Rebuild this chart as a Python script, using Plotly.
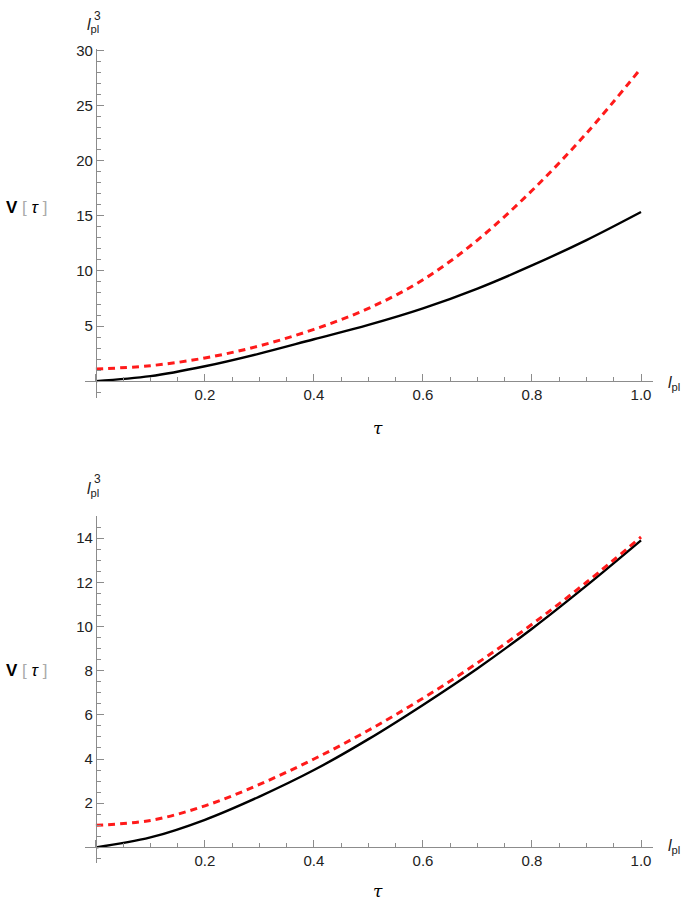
import plotly.graph_objects as go

# values
tau = [0.0, 0.1, 0.2, 0.3, 0.4, 0.5, 0.6, 0.7, 0.8, 0.9, 1.0]

top_black = [0.0, 0.45, 1.35, 2.5, 3.8, 5.1, 6.6, 8.4, 10.5, 12.8, 15.35]
top_red = [1.1, 1.4, 2.1, 3.2, 4.7, 6.6, 9.2, 12.8, 17.3, 22.5, 28.4]

bot_black = [0.0, 0.45, 1.25, 2.3, 3.5, 4.9, 6.45, 8.1, 9.9, 11.85, 13.9]
bot_red = [1.0, 1.22, 1.88, 2.85, 4.0, 5.3, 6.75, 8.35, 10.1, 12.0, 14.05]

x_ticks = [0, 0.2, 0.4, 0.6, 0.8, 1.0]
x_labels = ["", "0.2", "0.4", "0.6", "0.8", "1.0"]
top_y_ticks = [0, 5, 10, 15, 20, 25, 30]
top_y_labels = ["", "5", "10", "15", "20", "25", "30"]
bot_y_ticks = [0, 2, 4, 6, 8, 10, 12, 14]
bot_y_labels = ["", "2", "4", "6", "8", "10", "12", "14"]

W, H = 685, 900
AXIS = "#8c8c8c"
FONT = "Liberation Sans"
TXT = "#222"


def px_x(p):
    return p / W


def px_y(p):
    return 1 - p / H


x_range = [-0.02, 1.022]
x_dom = [px_x(85), px_x(653)]

panels = [
    dict(yr=[-1.5, 30.15], ypx=(42.3, 393.7), black=top_black, red=top_red,
         tv=top_y_ticks, tt=top_y_labels, minor=1, off=0),
    dict(yr=[-0.72, 15.0], ypx=(513.0, 863.0), black=bot_black, red=bot_red,
         tv=bot_y_ticks, tt=bot_y_labels, minor=0.5, off=467),
]

fig = go.Figure()
layout = {}
annotations = []

for i, p in enumerate(panels, start=1):
    xa = "x" if i == 1 else "x%d" % i
    ya = "y" if i == 1 else "y%d" % i
    y_dom = [px_y(p["ypx"][1]), px_y(p["ypx"][0])]
    r0, r1 = p["yr"]
    # axes cross at the data origin
    y_zero = y_dom[0] + (y_dom[1] - y_dom[0]) * (0 - r0) / (r1 - r0)
    x_zero = x_dom[0] + (x_dom[1] - x_dom[0]) * (0 - x_range[0]) / (x_range[1] - x_range[0])

    fig.add_trace(go.Scatter(x=tau, y=p["black"], mode="lines", line_shape="spline",
                             line=dict(color="black", width=2.4), xaxis=xa, yaxis=ya,
                             showlegend=False))
    fig.add_trace(go.Scatter(x=tau, y=p["red"], mode="lines", line_shape="spline",
                             line=dict(color="#ff1a1a", width=3, dash="7px,5px"),
                             xaxis=xa, yaxis=ya, showlegend=False))

    layout["xaxis" if i == 1 else "xaxis%d" % i] = dict(
        domain=x_dom, range=x_range, anchor="free", position=y_zero,
        showline=True, linecolor=AXIS, linewidth=1, showgrid=False, zeroline=False,
        tickmode="array", tickvals=x_ticks, ticktext=x_labels,
        ticks="inside", ticklen=7, tickcolor=AXIS, tickwidth=1,
        tickfont=dict(family=FONT, size=15, color=TXT),
        minor=dict(tickmode="linear", tick0=0, dtick=0.05, ticks="inside",
                   ticklen=4, tickcolor=AXIS),
    )
    layout["yaxis" if i == 1 else "yaxis%d" % i] = dict(
        domain=y_dom, range=p["yr"], anchor="free", position=x_zero,
        showline=True, linecolor=AXIS, linewidth=1, showgrid=False, zeroline=False,
        tickmode="array", tickvals=p["tv"], ticktext=p["tt"],
        ticks="inside", ticklen=7, tickcolor=AXIS, tickwidth=1,
        tickfont=dict(family=FONT, size=15, color=TXT),
        minor=dict(tickmode="linear", tick0=0, dtick=p["minor"], ticks="inside",
                   ticklen=4, tickcolor=AXIS),
    )

    off = p["off"]
    annotations += [
        dict(x=px_x(26), y=px_y(202 + off),
             text="<b>V</b> <span style='color:#aaa'>[</span> <i>τ</i> <span style='color:#aaa'>]</span>",
             font=dict(family=FONT, size=17, color="black")),
        dict(x=px_x(378), y=px_y(424 + off), text="<i>τ</i>",
             font=dict(family="DejaVu Serif", size=17, color="black")),
        dict(x=px_x(674), y=px_y(379 + off), text="<i>l</i><sub>pl</sub>",
             font=dict(family=FONT, size=16, color=TXT)),
        dict(x=px_x(93), y=px_y(19 + off), text="<i>l</i><sub>pl</sub>",
             font=dict(family=FONT, size=16, color=TXT)),
        dict(x=px_x(97), y=px_y(9 + off), text="3",
             font=dict(family=FONT, size=12, color=TXT)),
    ]

for a in annotations:
    a.update(xref="paper", yref="paper", showarrow=False, xanchor="center", yanchor="middle")

fig.update_layout(
    width=W, height=H,
    margin=dict(l=0, r=0, t=0, b=0),
    paper_bgcolor="white", plot_bgcolor="white",
    annotations=annotations,
    **layout,
)

# drop the default 8px page margin so the figure fills the window exactly
fig.write_html("out.html", config={"displayModeBar": False},
               post_script="document.body.style.margin='0';document.body.style.overflow='hidden';")
